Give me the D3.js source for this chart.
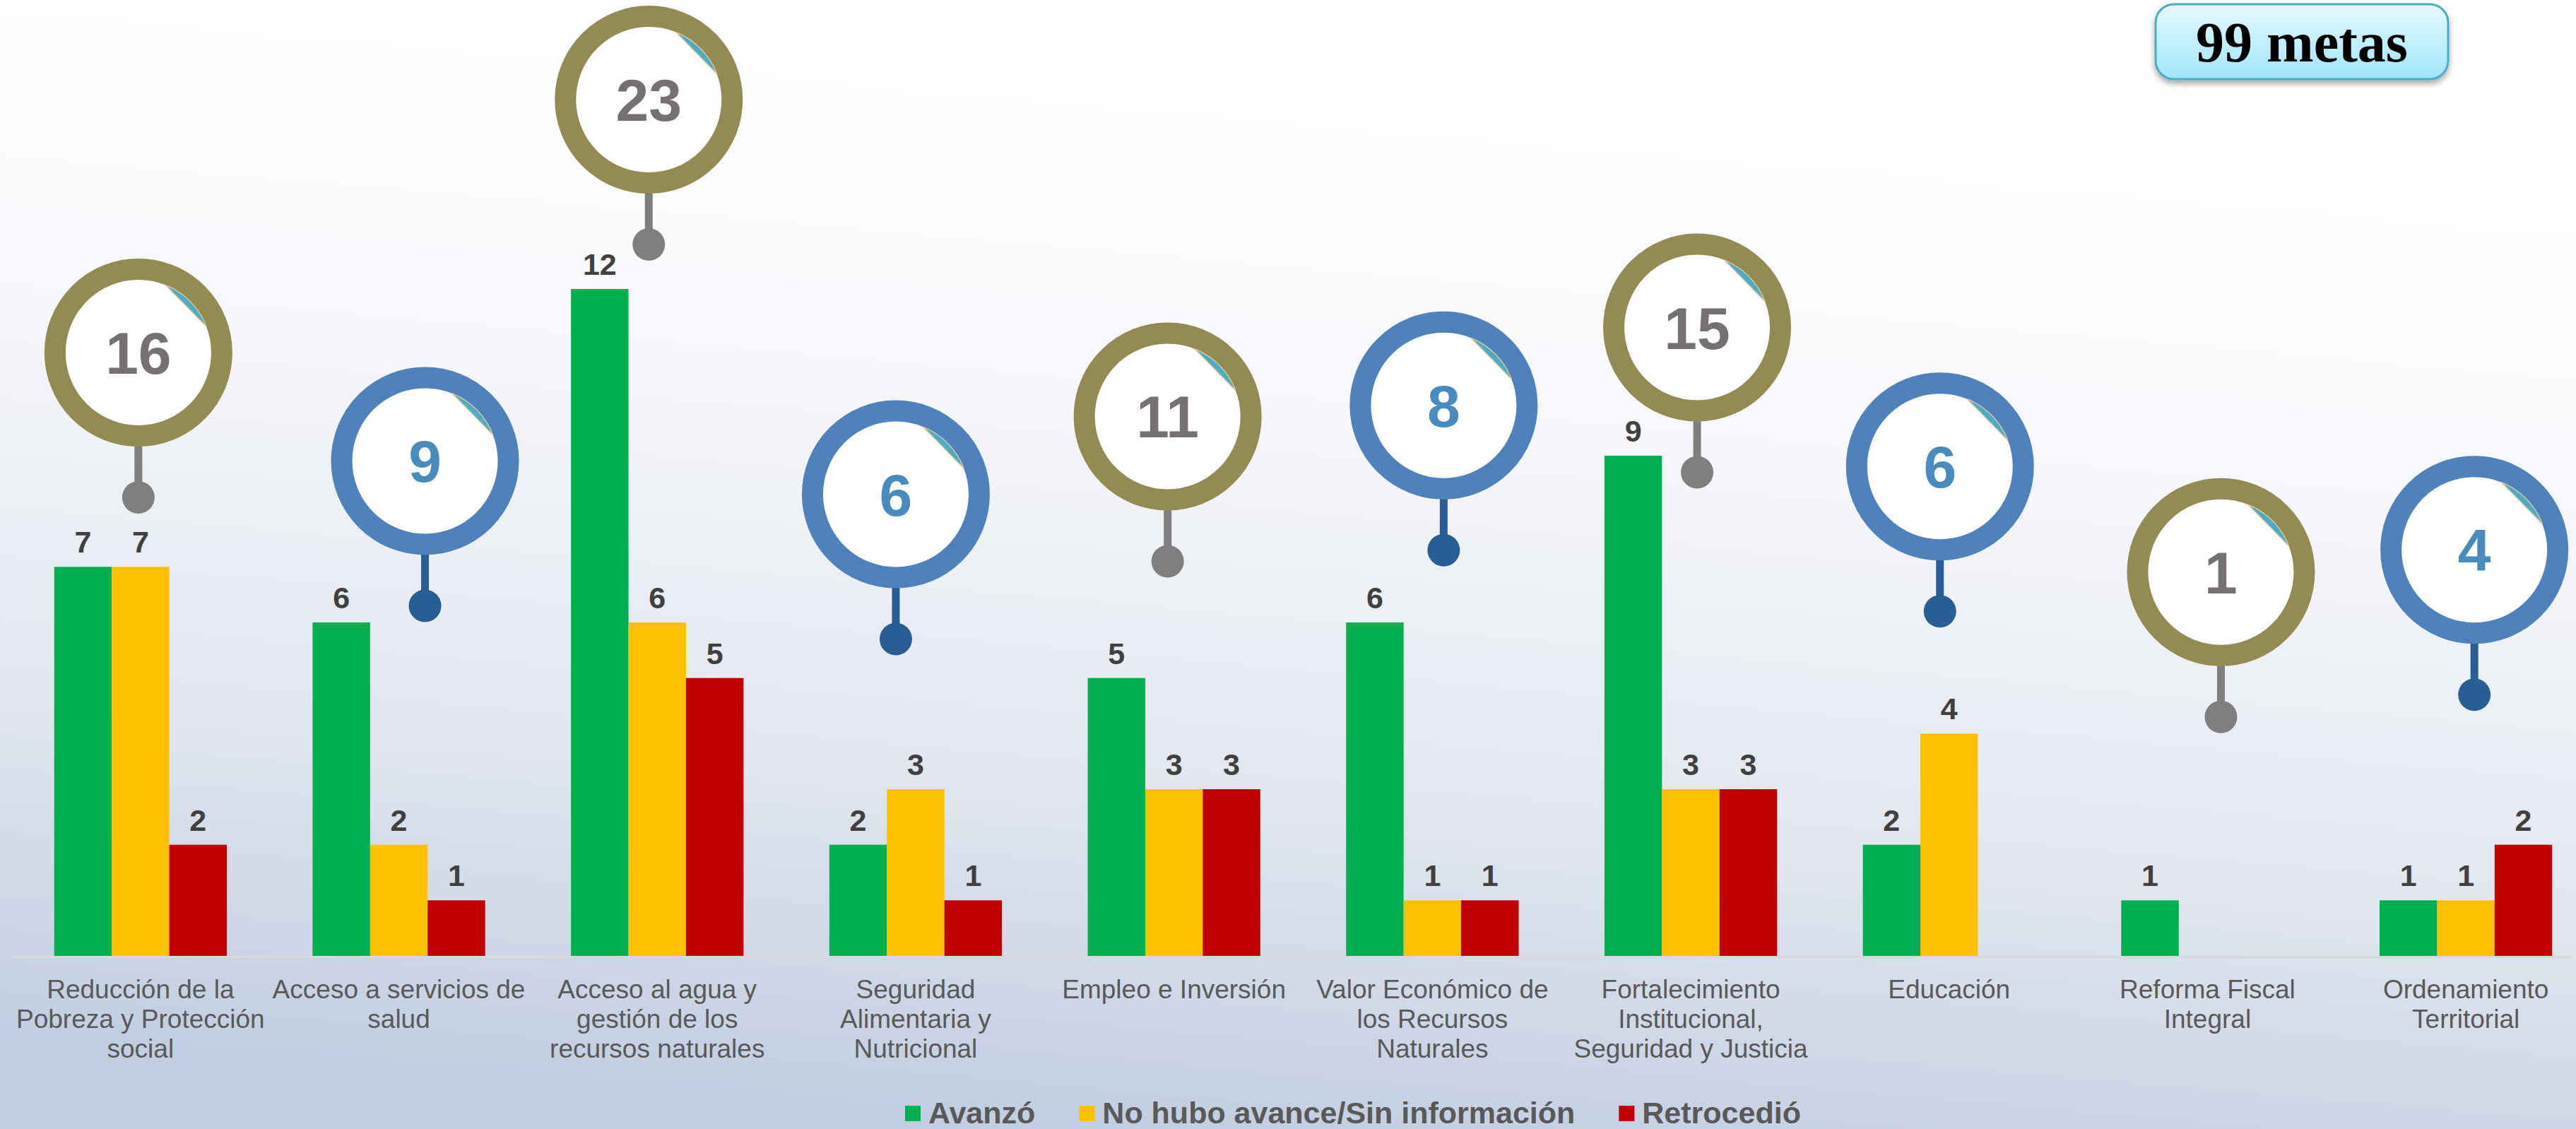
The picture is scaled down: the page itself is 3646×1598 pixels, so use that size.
<!DOCTYPE html>
<html>
<head>
<meta charset="utf-8">
<script src="https://cdn.jsdelivr.net/npm/d3@7"></script>
<style>
  html, body { margin: 0; padding: 0; overflow: hidden; }
  svg { display: block; }
</style>
</head>
<body>
<svg id="chart"></svg>
<script>
// ── Data ──────────────────────────────────────────────────────────────────────

const categories = [
  ['Reducción de la', 'Pobreza y Protección', 'social'],
  ['Acceso a servicios de', 'salud'],
  ['Acceso al agua y', 'gestión de los', 'recursos naturales'],
  ['Seguridad', 'Alimentaria y', 'Nutricional'],
  ['Empleo e Inversión'],
  ['Valor Económico de', 'los Recursos', 'Naturales'],
  ['Fortalecimiento', 'Institucional,', 'Seguridad y Justicia'],
  ['Educación'],
  ['Reforma Fiscal', 'Integral'],
  ['Ordenamiento', 'Territorial']
];

const avanzo     = [7, 6, 12, 2, 5, 6, 9, 2, 1, 1];
const sinAvance  = [7, 2, 6, 3, 3, 1, 3, 4, 0, 1];
const retrocedio = [2, 1, 5, 1, 3, 1, 3, 0, 0, 2];

const seriesNames  = ['Avanzó', 'No hubo avance/Sin información', 'Retrocedió'];
const seriesColors = ['#00B050', '#FFC000', '#C00000'];

// pin annotations: anchor level (in value units) and sideways shift (px)
const pinLevel = [8.25, 6.3, 12.8, 5.7, 7.1, 7.3, 8.7, 6.2, 4.3, 4.7];
const pinShift = [-3, 37, -12, -28, -9, 16, 9, -13, 19, 12];

// ── Setup ─────────────────────────────────────────────────────────────────────

const W = 3646, H = 1598;
const series = [avanzo, sinAvance, retrocedio];
const totals = categories.map((c, i) => d3.sum(series, s => s[i]));

const svg = d3.select('#chart').attr('width', W).attr('height', H);
const defs = svg.append('defs');

const bg = defs.append('linearGradient').attr('id', 'bg')
  .attr('x1', 0.6).attr('y1', 0).attr('x2', 0.4).attr('y2', 1);
[['0%', '#ffffff'], ['35%', '#f7f8fb'], ['70%', '#e2e7ef'], ['100%', '#c1cde1']]
  .forEach(([o, c]) => bg.append('stop').attr('offset', o).attr('stop-color', c));

const boxGrad = defs.append('linearGradient').attr('id', 'box')
  .attr('x1', 0).attr('y1', 0).attr('x2', 0).attr('y2', 1);
boxGrad.append('stop').attr('offset', '0%').attr('stop-color', '#e6faff');
boxGrad.append('stop').attr('offset', '100%').attr('stop-color', '#9fe5fa');

const shadow = defs.append('filter').attr('id', 'shadow')
  .attr('x', '-10%').attr('y', '-20%').attr('width', '120%').attr('height', '150%');
shadow.append('feDropShadow').attr('dx', 0).attr('dy', 5).attr('stdDeviation', 4)
  .attr('flood-color', '#000').attr('flood-opacity', 0.35);

svg.append('rect').attr('width', W).attr('height', H).attr('fill', 'url(#bg)');

// ── Scales ────────────────────────────────────────────────────────────────────

const x = d3.scaleBand().domain(d3.range(categories.length)).range([16, 3673]);
const x1 = d3.scaleBand().domain(d3.range(3)).range([0, x.bandwidth()])
  .paddingInner(0).paddingOuter(0.746);
const y = d3.scaleLinear().domain([0, 12]).range([1353, 409]);

// ── Axis line ─────────────────────────────────────────────────────────────────

svg.append('line')
  .attr('x1', 16).attr('x2', 3640)
  .attr('y1', y(0) + 1.5).attr('y2', y(0) + 1.5)
  .attr('stroke', '#d9d9d9').attr('stroke-width', 3);

// ── Bars ──────────────────────────────────────────────────────────────────────

const groups = svg.selectAll('.grp')
  .data(categories)
  .join('g')
  .attr('class', 'grp')
  .attr('transform', (d, i) => `translate(${x(i)},0)`);

groups.each(function(d, i) {
  const g = d3.select(this);
  series.forEach((s, k) => {
    const v = s[i];
    if (!v) return;
    g.append('rect')
      .attr('x', x1(k)).attr('width', x1.bandwidth())
      .attr('y', y(v)).attr('height', y(0) - y(v))
      .attr('fill', seriesColors[k]);
    g.append('text')
      .attr('x', x1(k) + x1.bandwidth() / 2)
      .attr('y', y(v) - 20)
      .attr('text-anchor', 'middle')
      .style('font-family', 'Liberation Sans, Arial, sans-serif')
      .style('font-weight', 'bold')
      .style('font-size', '43px')
      .style('fill', '#404040')
      .text(v);
  });

  const lab = g.append('text')
    .attr('text-anchor', 'middle')
    .style('font-family', 'Liberation Sans, Arial, sans-serif')
    .style('font-size', '37px')
    .style('fill', '#595959');
  d.forEach((line, j) => {
    lab.append('tspan')
      .attr('x', x.bandwidth() / 2)
      .attr('y', 1413 + j * 42)
      .text(line);
  });
});

// ── Pins with totals ──────────────────────────────────────────────────────────

const R_OUT = 133, RING = 30, KNOB = 23, STEM = 205;

categories.forEach((c, i) => {
  const olive = i % 2 === 0;
  const ringCol = olive ? '#948a54' : '#4f81bd';
  const stemCol = olive ? '#7f7f7f' : '#285e93';
  const numCol  = olive ? '#767171' : '#4a8bbe';

  const cx = x(i) + x.bandwidth() / 2 + pinShift[i];
  const ky = y(pinLevel[i]);
  const cy = ky - STEM;
  const g = svg.append('g').attr('class', 'pin');

  g.append('line')
    .attr('x1', cx).attr('x2', cx)
    .attr('y1', cy + R_OUT - 4).attr('y2', ky)
    .attr('stroke', stemCol).attr('stroke-width', 11);
  g.append('circle').attr('cx', cx).attr('cy', ky).attr('r', KNOB).attr('fill', stemCol);

  const rMid = R_OUT - RING / 2;
  g.append('circle').attr('cx', cx).attr('cy', cy).attr('r', rMid)
    .attr('fill', '#ffffff')
    .attr('stroke', ringCol).attr('stroke-width', RING);

  // small curl on the inner edge
  const rIn = R_OUT - RING;
  const a0 = -68 * Math.PI / 180, a1 = -21 * Math.PI / 180;
  const p0 = [cx + rIn * Math.cos(a0), cy + rIn * Math.sin(a0)];
  const p1 = [cx + rIn * Math.cos(a1), cy + rIn * Math.sin(a1)];
  g.append('path')
    .attr('d', `M${p0}A${rIn},${rIn} 0 0 1 ${p1}Z`)
    .attr('fill', '#4bacc6')
    .attr('stroke', '#d9c39a').attr('stroke-width', 1.5);

  g.append('text')
    .attr('x', cx).attr('y', cy + 30)
    .attr('text-anchor', 'middle')
    .style('font-family', 'Liberation Sans, Arial, sans-serif')
    .style('font-weight', 'bold')
    .style('font-size', '84px')
    .style('fill', numCol)
    .text(totals[i]);
});

// ── Total box ─────────────────────────────────────────────────────────────────

const box = svg.append('g');
box.append('rect')
  .attr('x', 3051).attr('y', 6).attr('width', 414).attr('height', 106)
  .attr('rx', 26).attr('ry', 26)
  .attr('fill', 'url(#box)')
  .attr('stroke', '#4bacc6').attr('stroke-width', 3)
  .attr('filter', 'url(#shadow)');
box.append('text')
  .attr('x', 3258).attr('y', 87)
  .attr('text-anchor', 'middle')
  .style('font-family', 'Liberation Serif, Times New Roman, serif')
  .style('font-weight', 'bold')
  .style('font-size', '80px')
  .style('fill', '#000')
  .text(`${d3.sum(totals)} metas`);

// ── Legend ────────────────────────────────────────────────────────────────────

const legend = svg.append('g').attr('transform', 'translate(1281,1576)');
let lx = 0;
seriesNames.forEach((name, k) => {
  legend.append('rect')
    .attr('x', lx).attr('y', -11).attr('width', 22).attr('height', 22)
    .attr('fill', seriesColors[k]);
  const t = legend.append('text')
    .attr('x', lx + 33).attr('y', 14)
    .style('font-family', 'Liberation Sans, Arial, sans-serif')
    .style('font-weight', 'bold')
    .style('font-size', '43px')
    .style('fill', '#595959')
    .text(name);
  lx += 33 + t.node().getComputedTextLength() + 62;
});
</script>
</body>
</html>
